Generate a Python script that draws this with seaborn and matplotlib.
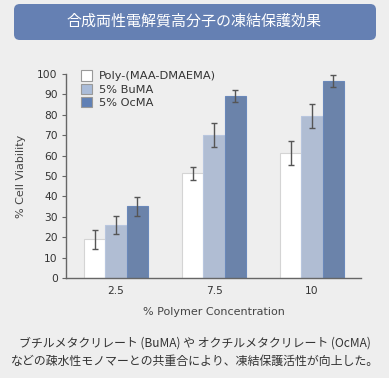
import pandas as pd
import numpy as np
from matplotlib import pyplot as plt
from matplotlib.patches import FancyBboxPatch
import seaborn as sns

concs = ["2.5", "7.5", "10"]
series = ["Poly-(MAA-DMAEMA)", "5% BuMA", "5% OcMA"]
poly = [19, 51.3, 61.4]
buma = [26, 70, 79.4]
ocma = [35.1, 89.2, 96.6]
poly_err = [4.6, 3.2, 6.0]
buma_err = [4.5, 5.8, 6.0]
ocma_err = [4.5, 2.8, 3.0]

colors = ["#ffffff", "#aabcd9", "#6080b5"]
edges = ["#d4d4d4", "#b8c6de", "#6a88ba"]

df = pd.DataFrame({
    "conc": concs * 3,
    "series": np.repeat(series, 3),
    "viab": poly + buma + ocma,
})
errs = [poly_err, buma_err, ocma_err]

sns.set_style("white")
plt.rcParams['font.family'] = ['DejaVu Sans', 'Noto Sans CJK JP']
bg = "#eeeeee"

fig = plt.figure(figsize=(3.89, 3.78), dpi=100, facecolor=bg)
ax = fig.add_axes([66 / 389, 1 - 278 / 378, 295 / 389, 204 / 378])
ax.set_facecolor(bg)

sns.barplot(data=df, x="conc", y="viab", hue="series", order=concs, hue_order=series,
            palette=colors, width=0.65, ax=ax, legend=False)

for cont, ec, err in zip(ax.containers, edges, errs):
    xs = []
    ys = []
    for p in cont.patches:
        p.set_edgecolor(ec)
        p.set_linewidth(0.8)
        xs.append(p.get_x() + p.get_width() / 2)
        ys.append(p.get_height())
    ax.errorbar(xs, ys, yerr=err, fmt="none", ecolor="#555555", elinewidth=1.0,
                capsize=2, capthick=1.0)

ax.set_xlim(-0.51, 2.5)
ax.set_ylim(0, 100)
ax.set_yticks(range(0, 101, 10))
ax.tick_params(axis="y", length=3, width=0.8, color="#666666", labelsize=7.7,
               labelcolor="#333333", pad=3, left=True)
ax.tick_params(axis="x", length=0, labelsize=7.7, labelcolor="#333333", pad=6)
for s in ["top", "right"]:
    ax.spines[s].set_visible(False)
for s in ["left", "bottom"]:
    ax.spines[s].set_color("#666666")
    ax.spines[s].set_linewidth(1.0)
ax.set_xlabel("% Polymer Concentration", fontsize=8, color="#444444", labelpad=8)
ax.set_ylabel("% Cell Viability", fontsize=8, color="#444444", labelpad=8)

handles = [plt.Rectangle((0, 0), 1, 1, facecolor=c, edgecolor="#999999", linewidth=0.8)
           for c in colors]
ax.legend(handles, series, loc="upper left", bbox_to_anchor=(0.035, 1.04), frameon=False,
          fontsize=8.2, handlelength=1.0, handleheight=1.0, handletextpad=0.55,
          labelspacing=0.2, labelcolor="#333333", borderaxespad=0)

banner = FancyBboxPatch((14 / 389, 1 - 40 / 378), 362 / 389, 36 / 378,
                        boxstyle="round,pad=0,rounding_size=0.015",
                        transform=fig.transFigure, facecolor="#6580b3", edgecolor="none")
fig.patches.append(banner)
fig.text(0.5, 1 - 22 / 378, "合成両性電解質高分子の凍結保護効果", ha="center", va="center",
         fontsize=10.8, color="white", family=["Noto Sans CJK JP", "DejaVu Sans"])

fig.text(0.5, 1 - 343 / 378, "ブチルメタクリレート (BuMA) や オクチルメタクリレート (OcMA)",
         ha="center", va="center", fontsize=8.6, color="#333333",
         family=["Noto Sans CJK JP", "DejaVu Sans"])
fig.text(0.5, 1 - 361 / 378, "などの疎水性モノマーとの共重合により、凍結保護活性が向上した。",
         ha="center", va="center", fontsize=8.6, color="#333333",
         family=["Noto Sans CJK JP", "DejaVu Sans"])

fig.savefig("out.png", dpi=100, facecolor=bg)
